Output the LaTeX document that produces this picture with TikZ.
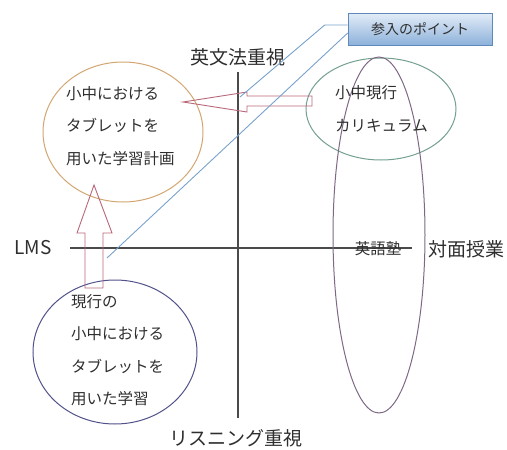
\documentclass[tikz,border=0pt]{standalone}
\usepackage{fontspec}
\setmainfont{Noto Sans CJK JP}
\usepackage{tikz}
\usetikzlibrary{positioning}

\definecolor{axisgray}{HTML}{4A4A4A}
\definecolor{plantan}{HTML}{D3A670}
\definecolor{currgreen}{HTML}{74A090}
\definecolor{jukupurple}{HTML}{7E6886}
\definecolor{nownavy}{HTML}{52528A}
\definecolor{arrowrose}{HTML}{B8687A}
\definecolor{callblue}{HTML}{78A2CC}
\definecolor{boxtop}{HTML}{E3EDF8}
\definecolor{boxbottom}{HTML}{8DB1DA}
\definecolor{boxedge}{HTML}{5E89BA}
\definecolor{txtgray}{HTML}{2E2E2E}

\begin{document}
\begin{tikzpicture}[x=1pt,y=-1pt,
    axis/.style={draw=axisgray, line width=1.1pt},
    axislbl/.style={font=\fontsize{19}{19}\selectfont, text=txtgray, inner sep=0pt},
    lbl/.style={font=\fontsize{15.5}{32.5}\selectfont, text=txtgray, inner sep=0pt, align=left, anchor=west},
    blockarrow/.style={draw=arrowrose, line width=0.9pt, line join=miter},
    callout/.style={draw=callblue, line width=0.9pt},
    pointbox/.style={draw=boxedge, line width=0.6pt, top color=boxtop, bottom color=boxbottom,
        minimum width=144pt, minimum height=32pt, inner sep=0pt,
        font=\fontsize{14}{14}\selectfont, text=txtgray}]
    \useasboundingbox (0,0) rectangle (507,450);

    % axes
    \coordinate (axtop) at (238,72);
    \coordinate (axbottom) at (238,418);
    \coordinate (axleft) at (70,248);
    \coordinate (axright) at (412,248);
    \draw[axis] (axtop) -- (axbottom);
    \draw[axis] (axleft) -- (axright);
    \node[axislbl] (grammar) at (238,57) {英文法重視};
    \node[axislbl] (listening) at (236,438) {リスニング重視};
    \node[axislbl] (lms) at (33,248) {LMS};
    \node[axislbl] (faceface) at (466,249) {対面授業};

    % ellipses
    \draw[plantan, line width=1pt] (123,132) ellipse [x radius=80, y radius=70];
    \draw[currgreen, line width=1pt] (381,109) ellipse [x radius=75, y radius=51];
    \draw[jukupurple, line width=1pt] (379,235) ellipse [x radius=46, y radius=178];
    \draw[nownavy, line width=1pt] (115,352) ellipse [x radius=82, y radius=72];

    \node[lbl] (plan) at (66,126) {小中における\\タブレットを\\用いた学習計画};
    \node[lbl] (curr) at (335,109) {小中現行\\カリキュラム};
    \node[lbl] (now) at (71,350) {現行の\\小中における\\タブレットを\\用いた学習};
    \node[font=\fontsize{15.5}{15.5}\selectfont, text=txtgray, inner sep=0pt] (juku) at (378,249) {英語塾};

    % block arrows
    \draw[blockarrow] (183,102) -- (247,92) -- (247,96) -- (312,96) -- (312,106)
        -- (247,106) -- (247,112) -- cycle;
    \draw[blockarrow] (94,185) -- (112,233) -- (103,233) -- (103,288) -- (85,288)
        -- (85,233) -- (77,233) -- cycle;

    % callout
    \node[pointbox] (point) at (420,29) {参入のポイント};
    \coordinate (tipA) at (240,97);
    \coordinate (tipB) at (107,258);
    \draw[callout] ([yshift=4pt]point.west) -- ++(-23,0) -- (tipA);
    \draw[callout] ([yshift=-4pt]point.west) -- (tipB);
\end{tikzpicture}
\end{document}
